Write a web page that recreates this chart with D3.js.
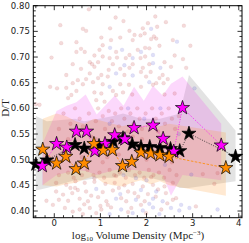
<!DOCTYPE html>
<html>
<head>
<meta charset="utf-8">
<script src="https://cdn.jsdelivr.net/npm/d3@7"></script>
<style>
  body { margin: 0; background: #fff; }
  svg { display: block; }
  .tick-label { font-family: "DejaVu Sans", sans-serif; font-size: 8.5px; fill: #222; }
  .axis-title { font-family: "Liberation Serif", "DejaVu Serif", serif; font-size: 11px; fill: #222; }
</style>
</head>
<body>
<svg id="chart" width="249" height="243"></svg>
<script>
// star series: [log10 density, D/T]
const blackStars = [
  [-0.40, 0.491], [-0.16, 0.499], [0.45, 0.529], [0.65, 0.522], [0.97, 0.527],
  [1.28, 0.535], [1.49, 0.542], [1.69, 0.530], [1.88, 0.525], [2.07, 0.525],
  [2.29, 0.523], [2.52, 0.521], [2.72, 0.517], [2.92, 0.551], [3.93, 0.506]
];
const magentaStars = [
  [-0.26, 0.488], [0.05, 0.531], [0.27, 0.524], [0.48, 0.555], [0.70, 0.555],
  [0.88, 0.517], [1.10, 0.531], [1.31, 0.548], [1.53, 0.540], [1.73, 0.562],
  [2.14, 0.567], [2.36, 0.541], [2.59, 0.516], [2.78, 0.601], [3.62, 0.528]
];
const orangeStars = [
  [-0.25, 0.520], [0.05, 0.493], [0.25, 0.506], [0.47, 0.482], [0.65, 0.493],
  [0.86, 0.531], [1.06, 0.518], [1.26, 0.519], [1.48, 0.488], [1.68, 0.496],
  [1.88, 0.514], [2.09, 0.512], [2.29, 0.509], [2.49, 0.506], [3.72, 0.484]
];

// shaded ranges: [x, lower, upper]
const grayBand = [
  [-0.40, 0.440, 0.585], [-0.16, 0.445, 0.575], [0.45, 0.460, 0.580], [0.65, 0.460, 0.575],
  [0.97, 0.465, 0.580], [1.28, 0.465, 0.585], [1.49, 0.470, 0.590], [1.69, 0.465, 0.585],
  [1.88, 0.465, 0.580], [2.07, 0.465, 0.580], [2.29, 0.460, 0.580], [2.52, 0.455, 0.585],
  [2.72, 0.445, 0.590], [2.92, 0.445, 0.665], [3.93, 0.458, 0.557]
];
const magentaBand = [
  [-0.26, 0.450, 0.530], [0.05, 0.470, 0.595], [0.27, 0.475, 0.605], [0.48, 0.480, 0.612],
  [0.68, 0.478, 0.627], [0.92, 0.470, 0.588], [1.31, 0.480, 0.625], [1.50, 0.480, 0.605],
  [1.73, 0.480, 0.642], [1.94, 0.478, 0.615], [2.14, 0.475, 0.644], [2.35, 0.470, 0.625],
  [2.53, 0.430, 0.648], [2.78, 0.470, 0.662], [3.62, 0.460, 0.570]
];
const orangeBand = [
  [-0.25, 0.450, 0.580], [0.05, 0.448, 0.590], [0.25, 0.452, 0.585], [0.47, 0.455, 0.575],
  [0.65, 0.462, 0.570], [0.86, 0.468, 0.580], [1.06, 0.455, 0.575], [1.26, 0.450, 0.570],
  [1.48, 0.448, 0.565], [1.68, 0.455, 0.570], [1.88, 0.460, 0.565], [2.09, 0.452, 0.570],
  [2.29, 0.458, 0.565], [2.49, 0.450, 0.570], [3.72, 0.430, 0.553]
];

// individual galaxies
const redPoints = [
  [0.75, 0.793], [1.33, 0.777], [1.50, 0.770], [0.13, 0.762], [0.62, 0.755], [0.69, 0.751],
  [1.21, 0.756], [1.63, 0.751], [1.74, 0.743], [1.43, 0.738], [1.02, 0.738], [0.15, 0.727],
  [0.48, 0.729], [1.23, 0.733], [1.70, 0.733], [1.05, 0.723], [0.58, 0.716], [0.48, 0.710],
  [0.66, 0.710], [0.98, 0.714], [1.34, 0.710], [1.63, 0.704], [0.87, 0.703], [-0.06, 0.699],
  [1.05, 0.701], [1.20, 0.698], [1.36, 0.699], [1.55, 0.698], [0.40, 0.686], [0.77, 0.690],
  [0.82, 0.686], [0.95, 0.690], [1.27, 0.686], [1.70, 0.686], [0.58, 0.677], [0.87, 0.681],
  [1.18, 0.675], [1.43, 0.677], [1.63, 0.679], [0.26, 0.665], [0.77, 0.668], [1.02, 0.665],
  [1.52, 0.665], [0.51, 0.655], [0.69, 0.657], [0.95, 0.659], [1.16, 0.662], [0.40, 0.649],
  [0.62, 0.647], [0.84, 0.651], [1.05, 0.647], [1.43, 0.647], [1.62, 0.646], [-0.09, 0.642],
  [0.06, 0.639], [0.26, 0.640], [0.48, 0.634], [0.37, 0.626], [0.87, 0.631], [1.02, 0.629],
  [1.27, 0.634], [1.34, 0.626], [1.49, 0.631], [1.69, 0.627], [0.30, 0.620], [0.91, 0.616],
  [1.09, 0.613], [-0.40, 0.608], [-0.32, 0.607],
  [2.19, 0.779], [2.42, 0.768], [2.03, 0.766], [1.92, 0.756], [2.23, 0.759], [2.81, 0.761],
  [1.96, 0.746], [1.87, 0.742], [2.16, 0.740], [2.21, 0.736], [2.10, 0.735], [2.57, 0.733],
  [2.28, 0.722], [2.95, 0.722], [1.97, 0.718], [2.06, 0.717], [1.81, 0.714], [1.97, 0.701],
  [1.87, 0.698], [2.61, 0.703], [2.79, 0.696], [2.06, 0.686], [2.39, 0.690], [2.53, 0.681],
  [1.92, 0.679], [2.86, 0.679], [1.88, 0.671], [2.09, 0.671], [2.35, 0.665], [2.28, 0.659],
  [2.46, 0.657], [1.99, 0.662], [2.21, 0.649], [2.37, 0.649], [1.88, 0.642], [2.14, 0.646],
  [2.61, 0.629], [2.39, 0.627],
  [0.10, 0.560], [0.20, 0.590], [0.35, 0.570], [0.45, 0.600], [0.55, 0.580], [0.62, 0.565],
  [0.75, 0.590], [0.80, 0.545], [0.90, 0.575], [0.95, 0.600], [1.05, 0.585], [1.10, 0.560],
  [1.18, 0.595], [1.25, 0.575], [1.32, 0.590], [1.40, 0.565], [1.45, 0.600], [1.52, 0.580],
  [1.60, 0.555], [1.65, 0.590], [1.72, 0.570], [1.80, 0.600], [1.85, 0.580], [1.90, 0.560],
  [1.98, 0.590], [2.05, 0.570], [2.12, 0.600], [2.20, 0.580], [2.25, 0.555], [2.33, 0.590],
  [2.40, 0.570], [2.48, 0.600], [2.55, 0.580], [2.62, 0.560], [2.70, 0.585],
  [0.10, 0.470], [0.30, 0.475], [0.42, 0.465], [0.60, 0.470], [0.72, 0.480], [0.85, 0.470],
  [0.98, 0.475], [1.08, 0.465], [1.20, 0.480], [1.30, 0.470], [1.42, 0.475], [1.55, 0.465],
  [1.62, 0.480], [1.75, 0.470], [1.85, 0.475], [1.95, 0.465], [2.05, 0.480], [2.15, 0.470],
  [2.27, 0.475], [2.38, 0.465], [2.50, 0.480], [2.65, 0.470],
  [0.30, 0.540], [0.60, 0.505], [0.90, 0.540], [1.15, 0.505], [1.40, 0.510], [1.70, 0.545],
  [2.00, 0.500], [2.30, 0.540], [2.55, 0.495], [1.05, 0.495], [1.90, 0.540], [2.45, 0.530],
  [0.04, 0.455], [0.26, 0.451], [0.46, 0.458], [0.66, 0.455], [0.87, 0.457], [1.11, 0.453],
  [1.31, 0.455], [1.52, 0.450], [1.70, 0.453], [1.92, 0.448], [2.14, 0.451], [2.39, 0.448],
  [2.57, 0.455], [3.22, 0.472], [3.47, 0.453], [3.54, 0.474], [0.04, 0.438], [0.19, 0.432],
  [0.39, 0.435], [0.51, 0.441], [0.69, 0.438], [1.05, 0.437], [1.27, 0.440], [1.60, 0.438],
  [1.74, 0.435], [2.03, 0.433], [2.42, 0.435], [2.64, 0.425], [0.10, 0.422], [0.30, 0.420],
  [0.55, 0.424], [0.73, 0.419], [0.95, 0.427], [1.13, 0.419], [1.56, 0.419], [1.96, 0.419],
  [2.57, 0.422], [3.07, 0.409], [0.55, 0.403], [0.77, 0.406], [1.02, 0.403], [1.23, 0.407],
  [1.67, 0.406], [2.32, 0.403], [0.40, 0.399], [0.62, 0.394], [0.91, 0.396], [1.99, 0.396],
  [-0.03, 0.412], [-0.17, 0.420], [0.23, 0.406], [0.87, 0.464], [1.34, 0.468], [2.10, 0.466],
  [1.88, 0.412], [1.16, 0.412],
  [0.45, 0.445], [0.80, 0.430], [1.40, 0.445], [1.82, 0.428], [2.25, 0.442], [1.00, 0.410],
  [1.45, 0.425], [2.45, 0.415], [0.65, 0.413], [1.60, 0.398], [2.20, 0.428], [0.35, 0.445]
];
const bluePoints = [
  [1.21, 0.718], [1.47, 0.714], [1.70, 0.698], [1.52, 0.684], [1.34, 0.668], [1.70, 0.664],
  [1.20, 0.642], [2.10, 0.755], [2.66, 0.730], [1.88, 0.710], [2.14, 0.704], [2.14, 0.688],
  [2.30, 0.679], [2.06, 0.651], [3.04, 0.639],
  [1.20, 0.570], [1.60, 0.600], [1.95, 0.580], [2.30, 0.600], [1.50, 0.470], [2.00, 0.460],
  [2.40, 0.490], [1.75, 0.500], [2.70, 0.550],
  [2.97, 0.471], [0.91, 0.443], [1.43, 0.433], [1.88, 0.441], [2.21, 0.438], [1.34, 0.424],
  [1.77, 0.422], [2.14, 0.424], [2.35, 0.419], [2.75, 0.412], [1.45, 0.403], [1.92, 0.401],
  [2.14, 0.407], [2.53, 0.406], [2.71, 0.401], [2.93, 0.406], [3.54, 0.403], [1.20, 0.394],
  [1.70, 0.396], [2.28, 0.394], [1.77, 0.464], [2.06, 0.414]
];

const xTicks = [0, 1, 2, 3, 4];
const yTicks = [0.40, 0.45, 0.50, 0.55, 0.60, 0.65, 0.70, 0.75, 0.80];

const margin = { top: 5.7, right: 7, bottom: 25.3, left: 33.3 };
const width = 249, height = 243;
const svg = d3.select('#chart');

const x = d3.scaleLinear().domain([-0.455, 4.07]).range([margin.left, width - margin.right]);
const y = d3.scaleLinear().domain([0.387, 0.80]).range([height - margin.bottom, margin.top]);

svg.append('clipPath').attr('id', 'plot-clip')
  .append('rect')
  .attr('x', x.range()[0]).attr('y', y.range()[1])
  .attr('width', x.range()[1] - x.range()[0])
  .attr('height', y.range()[0] - y.range()[1]);

const plot = svg.append('g').attr('clip-path', 'url(#plot-clip)');

const area = d3.area()
  .x(d => x(d[0]))
  .y0(d => y(d[1]))
  .y1(d => y(d[2]));

plot.append('path').datum(grayBand).attr('d', area)
  .attr('fill', '#000').attr('fill-opacity', 0.11);
plot.append('path').datum(magentaBand).attr('d', area)
  .attr('fill', '#f030f0').attr('fill-opacity', 0.19);
plot.append('path').datum(orangeBand).attr('d', area)
  .attr('fill', '#ff9020').attr('fill-opacity', 0.2);

plot.selectAll('circle.red')
  .data(redPoints)
  .enter()
  .append('circle')
  .attr('class', 'red')
  .attr('cx', d => x(d[0]))
  .attr('cy', d => y(d[1]))
  .attr('r', 1.9)
  .attr('fill', '#c84848')
  .attr('fill-opacity', 0.2)
  .attr('stroke', '#b03030')
  .attr('stroke-opacity', 0.12)
  .attr('stroke-width', 0.5);

plot.selectAll('circle.blue')
  .data(bluePoints)
  .enter()
  .append('circle')
  .attr('class', 'blue')
  .attr('cx', d => x(d[0]))
  .attr('cy', d => y(d[1]))
  .attr('r', 1.9)
  .attr('fill', '#5050d0')
  .attr('fill-opacity', 0.18)
  .attr('stroke', '#3030b0')
  .attr('stroke-opacity', 0.1)
  .attr('stroke-width', 0.5);

const line = d3.line().x(d => x(d[0])).y(d => y(d[1]));
plot.append('path').datum(blackStars).attr('d', line)
  .attr('fill', 'none').attr('stroke', '#222').attr('stroke-width', 0.8).attr('stroke-dasharray', '1,1.5');
plot.append('path').datum(magentaStars).attr('d', line)
  .attr('fill', 'none').attr('stroke', '#ff00ff').attr('stroke-width', 0.8).attr('stroke-dasharray', '1,1.5');
plot.append('path').datum(orangeStars).attr('d', line)
  .attr('fill', 'none').attr('stroke', '#ff8c00').attr('stroke-width', 0.8).attr('stroke-dasharray', '2.5,1.5');

const star = d3.symbol().type(d3.symbolStar).size(62);
function drawStars(data, fill) {
  svg.append('g').selectAll('path')
    .data(data)
    .enter()
    .append('path')
    .attr('d', star)
    .attr('transform', d => `translate(${x(d[0])},${y(d[1])})`)
    .attr('fill', fill)
    .attr('stroke', '#000')
    .attr('stroke-width', 0.7)
    .attr('stroke-linejoin', 'miter');
}
drawStars(blackStars, '#000');
drawStars(magentaStars, '#ff00ff');
drawStars(orangeStars, '#ff8c00');

// frame with inward ticks on all sides
const x0 = x.range()[0], x1 = x.range()[1], y0 = y.range()[0], y1 = y.range()[1];
svg.append('rect')
  .attr('x', x0).attr('y', y1)
  .attr('width', x1 - x0).attr('height', y0 - y1)
  .attr('fill', 'none').attr('stroke', '#000').attr('stroke-width', 1);

const ticks = svg.append('g').attr('stroke', '#000').attr('stroke-width', 0.8);
const yMinor = d3.range(0.39, 0.8001, 0.01);
yMinor.forEach((v) => {
  const major = yTicks.some(t => Math.abs(t - v) < 1e-6);
  const len = major ? 4.5 : 2.5;
  ticks.append('line').attr('x1', x0).attr('x2', x0 + len).attr('y1', y(v)).attr('y2', y(v));
  ticks.append('line').attr('x1', x1).attr('x2', x1 - len).attr('y1', y(v)).attr('y2', y(v));
});
const xMinor = d3.range(-0.4, 4.0001, 0.2);
xMinor.forEach((v) => {
  const major = xTicks.some(t => Math.abs(t - v) < 1e-6);
  const len = major ? 4.5 : 2.5;
  ticks.append('line').attr('y1', y0).attr('y2', y0 - len).attr('x1', x(v)).attr('x2', x(v));
  ticks.append('line').attr('y1', y1).attr('y2', y1 + len).attr('x1', x(v)).attr('x2', x(v));
});

svg.append('g').selectAll('text')
  .data(yTicks)
  .enter()
  .append('text')
  .attr('class', 'tick-label')
  .attr('x', x0 - 3.5)
  .attr('y', d => y(d))
  .attr('dy', '0.35em')
  .attr('text-anchor', 'end')
  .text(d => d.toFixed(2));

svg.append('g').selectAll('text')
  .data(xTicks)
  .enter()
  .append('text')
  .attr('class', 'tick-label')
  .attr('x', d => x(d))
  .attr('y', y0 + 8.5)
  .attr('text-anchor', 'middle')
  .text(d => d);

const xt = svg.append('text')
  .attr('class', 'axis-title')
  .attr('x', 138)
  .attr('y', 238.5)
  .attr('text-anchor', 'middle');
xt.append('tspan').text('log');
xt.append('tspan').attr('dy', 2.5).attr('font-size', '7px').text('10');
xt.append('tspan').attr('dy', -2.5).text(' Volume Density (Mpc');
xt.append('tspan').attr('dy', -3.5).attr('font-size', '7px').text('−3');
xt.append('tspan').attr('dy', 3.5).text(')');

svg.append('text')
  .attr('class', 'axis-title')
  .attr('transform', 'translate(9,108) rotate(-90)')
  .attr('text-anchor', 'middle')
  .text('D/T');
</script>
</body>
</html>
